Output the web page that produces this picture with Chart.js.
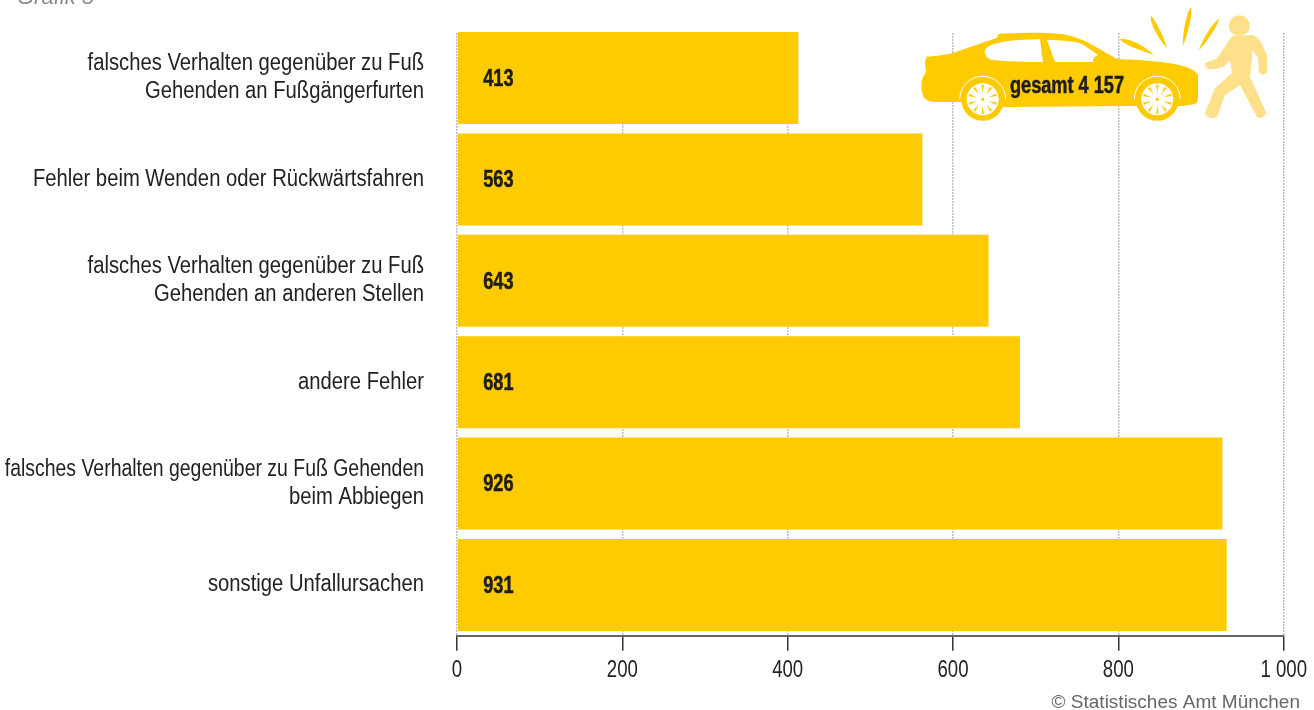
<!DOCTYPE html>
<html lang="de">
<head>
<meta charset="utf-8">
<title>Grafik 5</title>
<script src="https://cdn.jsdelivr.net/npm/chart.js@4"></script>
<style>
  html, body { margin: 0; padding: 0; background: #fff; }
  #wrap { position: relative; width: 1314px; height: 710px; overflow: hidden; }
</style>
</head>
<body>
<div id="wrap"><canvas id="Chart" width="1314" height="710"></canvas></div>
<script>
'use strict';
// ********************* DATA ********************
const categories = [
  ['falsches Verhalten gegenüber zu Fuß', 'Gehenden an Fußgängerfurten'],
  'Fehler beim Wenden oder Rückwärtsfahren',
  ['falsches Verhalten gegenüber zu Fuß', 'Gehenden an anderen Stellen'],
  'andere Fehler',
  ['falsches Verhalten gegenüber zu Fuß Gehenden', 'beim Abbiegen'],
  'sonstige Unfallursachen'
];
const unfaelle = [413, 563, 643, 681, 926, 931];
const xTicks = [0, 200, 400, 600, 800, 1000];
const xTickLabels = ['0', '200', '400', '600', '800', '1 000'];
const chartCaption = 'Grafik 5';
const sourceText = '© Statistisches Amt München';
const totalText = 'gesamt 4 157';

const YELLOW = '#fecb00';
const PALE = '#fee08a';
const FONT = '"Liberation Sans", sans-serif';

// ********************* CANVAS + CONDENSED TEXT ********************
let canvasElem = document.getElementById('Chart');
let ctx2d = canvasElem.getContext('2d');

// no condensed font installed, so squeeze the text sideways when it is painted
const plainFillText = ctx2d.fillText.bind(ctx2d);
ctx2d.fillText = function (text, x, y) {
  let bold = ctx2d.font.indexOf('bold') !== -1;
  let squeeze = 0.88;
  if (bold) squeeze = 0.79;
  else if (/^[\d ]+$/.test(text)) squeeze = 0.81;
  else if (text.length > 40) squeeze = 0.845;
  ctx2d.save();
  ctx2d.translate(x, y);
  ctx2d.scale(squeeze, 1);
  plainFillText(text, 0, 0);
  if (bold) {
    // the original type is heavier than Liberation bold
    ctx2d.strokeStyle = ctx2d.fillStyle;
    ctx2d.lineWidth = 0.5;
    ctx2d.strokeText(text, 0, 0);
  }
  ctx2d.restore();
};

// ********************* ICON SHAPES ********************
const carPath = 'M926.7 56.7 C936 56 946 55 953 53 L997 37.7 L998 34.5 C1000 33 1003 33.5 1005 33.5 ' +
  'C1020 33 1035 32.5 1047 33 C1055 33 1062 34 1067 35 C1075 37 1081 39 1087 42 L1117 59 ' +
  'C1130 59.5 1140 60 1150 61 C1162 62 1174 63.5 1183 66 C1190 68 1196 71 1198 75 L1198 97 ' +
  'C1198 101 1197 103 1195 104 L1182 106 L1135 106 L1005 107 L960 102 L933 102 ' +
  'C928 101 924 99 923 95 C921 90 921 84 922 80 C923 76 925 74 926 72 L925 62 Z';
const carWindow1 = 'M1040 39.3 C1030 39.5 1018 40 1010 40.7 C1000 42 993 44 988 46.7 ' +
  'C985 49 984 51 985 53 C986 57 988 59 992 60 C1008 61.5 1028 62 1043 62 Z';
const carWindow2 = 'M1047 40 L1055 62 L1093 62 C1093 59 1094 57 1098 55 C1092 51 1086 46 1080 43 ' +
  'C1072 41 1060 40 1047 40 Z';
const personPath = 'M1233 36 L1252 35 C1257 36 1260 40 1262 44 L1267 55 L1267 72 ' +
  'C1266 75 1260 75 1259 73 L1258 58 L1252 50 L1252 57 L1250 77 L1266 112 ' +
  'C1267 115 1262 118 1260 118 C1258 118 1257 117 1257 117 L1240 85 L1225 95 L1217 117 ' +
  'C1214 119 1206 118 1205 113 L1215 88 L1232 73 L1230 60 C1227 64 1224 67 1220 68 ' +
  'C1216 69 1212 69 1210 69 C1204 69 1204 62 1207 62 L1213 60 C1215 60 1217 58 1218 57 ' +
  'L1228 42 C1230 39 1231 37 1233 36 Z';
const sparkPaths = [
  'M1120 39 C1130 38 1145 46 1154 55 C1142 51 1122 44 1120 39 Z',
  'M1151 15.7 C1155 19 1164 37 1167 48 C1160 41 1149 23 1151 15.7 Z',
  'M1191 7.3 C1193 14 1187 36 1183 46 C1182 34 1187 11 1191 7.3 Z',
  'M1219 19 C1218 25 1207 42 1199 50 C1202 40 1213 22 1219 19 Z'
];

// wheel with spokes, x/y are the hub
function drawWheel(ctx, x, y) {
  ctx.strokeStyle = '#fff';
  ctx.lineWidth = 1;
  ctx.beginPath(); ctx.arc(x, y, 23, Math.PI * 1.0, Math.PI * 2); ctx.stroke();
  ctx.fillStyle = YELLOW;
  ctx.beginPath(); ctx.arc(x, y, 21.5, 0, Math.PI * 2); ctx.fill();
  ctx.fillStyle = '#fff';
  ctx.beginPath(); ctx.arc(x, y, 16, 0, Math.PI * 2); ctx.fill();
  ctx.fillStyle = YELLOW;
  for (let i = 0; i < 10; i++) {
    let a = i * Math.PI / 5 + 0.31;
    ctx.beginPath();
    ctx.moveTo(x + Math.cos(a) * 6.5, y + Math.sin(a) * 6.5);
    ctx.lineTo(x + Math.cos(a - 0.09) * 14.5, y + Math.sin(a - 0.09) * 14.5);
    ctx.lineTo(x + Math.cos(a + 0.09) * 14.5, y + Math.sin(a + 0.09) * 14.5);
    ctx.fill();
  }
  ctx.beginPath(); ctx.arc(x, y, 1.6, 0, Math.PI * 2); ctx.fill();
}

// ********************* PLUGINS ********************
const decorPlugin = {
  id: 'decor',
  afterDraw(chart) {
    let ctx = chart.ctx;
    ctx.save();

    // caption cut off by the top edge, source line at the bottom
    ctx.fillStyle = '#8a8a8a';
    ctx.font = 'italic 22px ' + FONT;
    ctx.textAlign = 'left';
    ctx.textBaseline = 'alphabetic';
    plainFillText(chartCaption, 17, 4);

    ctx.fillStyle = '#666';
    ctx.font = '19px ' + FONT;
    ctx.textAlign = 'right';
    plainFillText(sourceText, 1300, 708);

    // car
    ctx.fillStyle = YELLOW;
    ctx.fill(new Path2D(carPath));
    ctx.fillStyle = '#fff';
    ctx.fill(new Path2D(carWindow1));
    ctx.fill(new Path2D(carWindow2));
    drawWheel(ctx, 982.7, 99.3);
    drawWheel(ctx, 1157.3, 99.3);
    ctx.fillStyle = YELLOW;
    sparkPaths.forEach(p => ctx.fill(new Path2D(p)));

    // pedestrian
    ctx.fillStyle = PALE;
    ctx.beginPath(); ctx.arc(1239.3, 25.7, 10.5, 0, Math.PI * 2); ctx.fill();
    ctx.fill(new Path2D(personPath));

    ctx.fillStyle = '#1d1d1b';
    ctx.font = 'bold 23px ' + FONT;
    ctx.textAlign = 'center';
    ctx.textBaseline = 'middle';
    ctx.fillText(totalText, 1067, 86.5);
    ctx.restore();
  }
};

// value printed inside each bar, near the axis
const valueLabelPlugin = {
  id: 'valueLabels',
  beforeDatasetsDraw(chart) {
    // the dotted grid starts a little below the top of the plot
    let area = chart.chartArea;
    chart.ctx.save();
    chart.ctx.fillStyle = '#fff';
    chart.ctx.fillRect(area.left - 2, area.top - 2, area.width + 4, 7.7);
    chart.ctx.restore();
  },
  afterDatasetsDraw(chart) {
    let ctx = chart.ctx;
    ctx.save();
    ctx.fillStyle = '#1d1d1b';
    ctx.font = 'bold 23px ' + FONT;
    ctx.textAlign = 'center';
    ctx.textBaseline = 'middle';
    chart.getDatasetMeta(0).data.forEach((bar, i) => {
      ctx.fillText(String(unfaelle[i]), chart.scales.x.getPixelForValue(50), bar.y + 1.5);
    });
    ctx.restore();
  }
};

// ********************* THE CHART ********************
let chartObj = {
  type: 'bar',
  data: {
    labels: categories,
    datasets: [{
      label: 'Unfälle',
      data: unfaelle,
      backgroundColor: YELLOW,
      borderWidth: 0,
      barPercentage: 0.907,
      categoryPercentage: 1
    }]
  },
  options: {
    indexAxis: 'y',
    responsive: false,
    animation: false,
    layout: { padding: { top: 27.3, right: 30.3, left: 0, bottom: 0 } },
    plugins: { legend: { display: false }, tooltip: { enabled: false } },
    scales: {
      x: {
        type: 'linear',
        min: 0,
        max: 1000,
        afterBuildTicks: axis => { axis.ticks = xTicks.map(v => ({ value: v })); },
        afterFit: axis => {
          axis.height = 74.3;
          axis.paddingLeft = 0;
          axis.paddingRight = 0;
        },
        ticks: {
          autoSkip: false,
          maxRotation: 0,
          padding: 6,
          color: '#222',
          font: { family: FONT, size: 23 },
          callback: (v) => xTickLabels[xTicks.indexOf(v)]
        },
        grid: {
          drawOnChartArea: true,
          drawTicks: true,
          tickLength: 15,
          tickColor: '#333',
          tickWidth: 1.5,
          color: '#aaa',
          lineWidth: 1.5,
          tickBorderDash: []
        },
        border: { display: true, color: '#666', width: 2, dash: [1.5, 1.5] }
      },
      y: {
        afterFit: axis => {
          axis.width = 457;
          axis.paddingTop = 0;
          axis.paddingBottom = 0;
        },
        ticks: {
          autoSkip: false,
          padding: 25,
          color: '#222',
          font: { family: FONT, size: 23, lineHeight: 28 / 23 }
        },
        grid: { display: false },
        border: { display: false }
      }
    }
  },
  plugins: [valueLabelPlugin, decorPlugin]
};

new Chart(canvasElem, chartObj);
</script>
</body>
</html>
